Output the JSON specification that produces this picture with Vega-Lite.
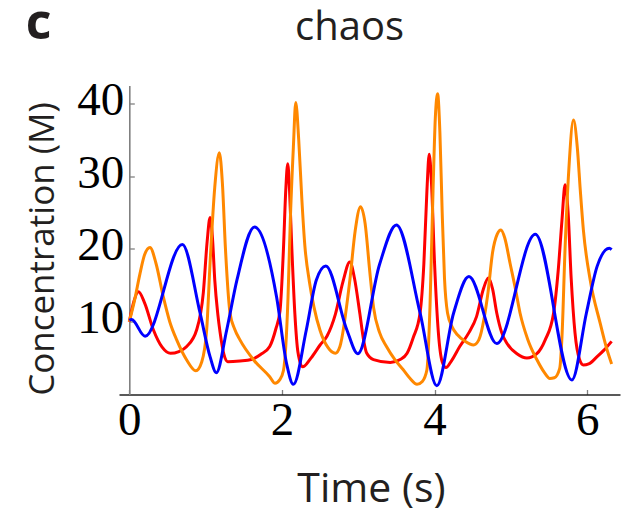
{
  "$schema": "https://vega.github.io/schema/vega-lite/v6.json",
  "autosize": {"type": "none"},
  "width": 501,
  "height": 309,
  "padding": {"left": 119, "top": 85.5, "right": 6, "bottom": 118.5},
  "background": "white",
  "title": {"text": "chaos", "font": "Open Sans", "fontSize": 40, "fontWeight": "normal", "color": "#231f20", "anchor": "middle", "dx": -20, "baseline": "alphabetic", "offset": -82},
  "datasets": {
    "red": [
      {"t": 0, "c": 10.0}, {"t": 0.06, "c": 12.8}, {"t": 0.12, "c": 14.1}, {"t": 0.2, "c": 12.6}, {"t": 0.315, "c": 8.9},
      {"t": 0.43, "c": 6.5}, {"t": 0.54, "c": 5.66}, {"t": 0.65, "c": 5.9}, {"t": 0.752, "c": 6.6}, {"t": 0.883, "c": 8.9},
      {"t": 0.97, "c": 14.0}, {"t": 1.02, "c": 21.0}, {"t": 1.058, "c": 24.3}, {"t": 1.09, "c": 21.5}, {"t": 1.12, "c": 15.7},
      {"t": 1.16, "c": 11.0}, {"t": 1.19, "c": 8.5}, {"t": 1.24, "c": 5.5}, {"t": 1.29, "c": 4.5}, {"t": 1.45, "c": 4.6},
      {"t": 1.6, "c": 4.8}, {"t": 1.72, "c": 5.5}, {"t": 1.84, "c": 6.6}, {"t": 1.92, "c": 9.0}, {"t": 1.975, "c": 11.5},
      {"t": 2.02, "c": 20.0}, {"t": 2.05, "c": 28.0}, {"t": 2.076, "c": 31.7}, {"t": 2.1, "c": 28.0}, {"t": 2.13, "c": 20.0},
      {"t": 2.17, "c": 11.0}, {"t": 2.21, "c": 5.8}, {"t": 2.27, "c": 3.8}, {"t": 2.38, "c": 5.0}, {"t": 2.5, "c": 6.8},
      {"t": 2.59, "c": 8.0}, {"t": 2.7, "c": 11.0}, {"t": 2.8, "c": 15.5}, {"t": 2.89, "c": 18.2}, {"t": 2.95, "c": 16.0},
      {"t": 3.02, "c": 11.2}, {"t": 3.07, "c": 7.5}, {"t": 3.11, "c": 5.7}, {"t": 3.2, "c": 4.8}, {"t": 3.42, "c": 4.4},
      {"t": 3.55, "c": 4.8}, {"t": 3.64, "c": 5.66}, {"t": 3.72, "c": 7.8}, {"t": 3.81, "c": 11.2}, {"t": 3.86, "c": 18.0},
      {"t": 3.9, "c": 28.0}, {"t": 3.93, "c": 33.0}, {"t": 3.96, "c": 29.0}, {"t": 4.0, "c": 18.0}, {"t": 4.05, "c": 8.5},
      {"t": 4.1, "c": 4.5}, {"t": 4.15, "c": 3.7}, {"t": 4.22, "c": 4.6}, {"t": 4.33, "c": 6.6}, {"t": 4.45, "c": 8.5},
      {"t": 4.55, "c": 10.7}, {"t": 4.64, "c": 14.5}, {"t": 4.705, "c": 16.0}, {"t": 4.76, "c": 14.5}, {"t": 4.815, "c": 11.2},
      {"t": 4.88, "c": 8.5}, {"t": 4.95, "c": 7.0}, {"t": 5.08, "c": 5.6}, {"t": 5.21, "c": 5.0}, {"t": 5.34, "c": 5.6},
      {"t": 5.45, "c": 7.5}, {"t": 5.56, "c": 11.2}, {"t": 5.62, "c": 17.0}, {"t": 5.67, "c": 24.0}, {"t": 5.71, "c": 28.8},
      {"t": 5.75, "c": 25.0}, {"t": 5.79, "c": 16.0}, {"t": 5.84, "c": 8.5}, {"t": 5.9, "c": 4.8}, {"t": 5.95, "c": 4.05},
      {"t": 6.02, "c": 4.2}, {"t": 6.13, "c": 5.2}, {"t": 6.22, "c": 6.1}, {"t": 6.32, "c": 7.3}
    ],
    "orange": [
      {"t": 0, "c": 10.0}, {"t": 0.07, "c": 13.0}, {"t": 0.14, "c": 16.6}, {"t": 0.2, "c": 19.2}, {"t": 0.271, "c": 20.2},
      {"t": 0.35, "c": 18.0}, {"t": 0.446, "c": 13.4}, {"t": 0.53, "c": 10.0}, {"t": 0.621, "c": 7.5}, {"t": 0.752, "c": 4.74},
      {"t": 0.872, "c": 3.25}, {"t": 0.95, "c": 4.5}, {"t": 1.014, "c": 8.9}, {"t": 1.058, "c": 18.0}, {"t": 1.12, "c": 28.5},
      {"t": 1.18, "c": 33.2}, {"t": 1.22, "c": 29.0}, {"t": 1.26, "c": 20.0}, {"t": 1.32, "c": 11.2}, {"t": 1.38, "c": 9.0},
      {"t": 1.45, "c": 7.5}, {"t": 1.63, "c": 4.74}, {"t": 1.84, "c": 2.45}, {"t": 1.91, "c": 1.54}, {"t": 1.97, "c": 2.0},
      {"t": 2.02, "c": 3.3}, {"t": 2.08, "c": 13.4}, {"t": 2.11, "c": 24.0}, {"t": 2.15, "c": 34.0}, {"t": 2.181, "c": 40.1},
      {"t": 2.22, "c": 35.0}, {"t": 2.26, "c": 27.0}, {"t": 2.3, "c": 20.5}, {"t": 2.36, "c": 15.5}, {"t": 2.42, "c": 12.0},
      {"t": 2.5, "c": 8.8}, {"t": 2.6, "c": 6.5}, {"t": 2.7, "c": 5.66}, {"t": 2.76, "c": 6.6}, {"t": 2.89, "c": 15.7},
      {"t": 2.96, "c": 22.5}, {"t": 3.03, "c": 25.8}, {"t": 3.09, "c": 23.5}, {"t": 3.15, "c": 17.0}, {"t": 3.2, "c": 12.0},
      {"t": 3.28, "c": 8.5}, {"t": 3.37, "c": 6.6}, {"t": 3.48, "c": 4.8}, {"t": 3.59, "c": 3.4}, {"t": 3.68, "c": 2.2},
      {"t": 3.77, "c": 1.4}, {"t": 3.84, "c": 1.8}, {"t": 3.9, "c": 3.4}, {"t": 3.94, "c": 12.0}, {"t": 3.98, "c": 28.0},
      {"t": 4.01, "c": 38.0}, {"t": 4.04, "c": 41.3}, {"t": 4.07, "c": 36.0}, {"t": 4.1, "c": 25.0}, {"t": 4.13, "c": 16.0},
      {"t": 4.17, "c": 11.2}, {"t": 4.23, "c": 9.3}, {"t": 4.3, "c": 8.2}, {"t": 4.4, "c": 7.3}, {"t": 4.51, "c": 6.8},
      {"t": 4.58, "c": 7.5}, {"t": 4.65, "c": 10.5}, {"t": 4.7, "c": 14.0}, {"t": 4.76, "c": 19.5}, {"t": 4.82, "c": 22.0},
      {"t": 4.87, "c": 22.6}, {"t": 4.92, "c": 21.5}, {"t": 4.99, "c": 18.0}, {"t": 5.06, "c": 14.5}, {"t": 5.12, "c": 11.2},
      {"t": 5.22, "c": 7.6}, {"t": 5.34, "c": 4.8}, {"t": 5.44, "c": 3.0}, {"t": 5.51, "c": 2.2}, {"t": 5.57, "c": 2.3},
      {"t": 5.64, "c": 3.6}, {"t": 5.67, "c": 8.0}, {"t": 5.71, "c": 20.0}, {"t": 5.76, "c": 31.0}, {"t": 5.82, "c": 37.7},
      {"t": 5.87, "c": 34.0}, {"t": 5.91, "c": 28.0}, {"t": 5.95, "c": 22.6}, {"t": 6.04, "c": 15.7}, {"t": 6.17, "c": 9.8},
      {"t": 6.25, "c": 6.5}, {"t": 6.32, "c": 4.2}
    ],
    "blue": [
      {"t": 0, "c": 10.2}, {"t": 0.03, "c": 10.3}, {"t": 0.206, "c": 8.0}, {"t": 0.695, "c": 20.6}, {"t": 0.927, "c": 11.2},
      {"t": 1.058, "c": 5.2}, {"t": 1.14, "c": 3.0}, {"t": 1.277, "c": 8.9}, {"t": 1.41, "c": 15.7}, {"t": 1.64, "c": 23.0},
      {"t": 1.93, "c": 13.4}, {"t": 2.06, "c": 4.3}, {"t": 2.15, "c": 1.4}, {"t": 2.32, "c": 8.9}, {"t": 2.45, "c": 15.7},
      {"t": 2.575, "c": 17.65}, {"t": 2.85, "c": 8.9}, {"t": 2.995, "c": 5.6}, {"t": 3.28, "c": 17.9}, {"t": 3.5, "c": 23.3},
      {"t": 3.81, "c": 11.2}, {"t": 4.03, "c": 1.2}, {"t": 4.25, "c": 11.2}, {"t": 4.45, "c": 16.2}, {"t": 4.815, "c": 7.0},
      {"t": 5.32, "c": 22.0}, {"t": 5.8, "c": 2.0}, {"t": 5.99, "c": 11.2}, {"t": 6.13, "c": 17.6}, {"t": 6.29, "c": 20.1},
      {"t": 6.32, "c": 19.9}
    ]
  },
  "encoding": {
    "x": {"field": "t", "type": "quantitative", "scale": {"domain": [-0.135, 6.43], "nice": false, "zero": false},
      "axis": {"title": "Time (s)", "values": [0, 2, 4, 6], "format": "d", "grid": false,
        "domainColor": "#222222", "domainWidth": 1.3, "tickColor": "#808080", "tickWidth": 1.3, "tickSize": -5,
        "labelFont": "Liberation Serif", "labelFontSize": 47, "labelColor": "#000000", "labelPadding": 7.5, "labelFlush": false, "labelOverlap": false, "labelBound": false,
        "titleFont": "Open Sans", "titleFontSize": 41, "titleFontWeight": "normal", "titleColor": "#231f20",
        "titleX": 252, "titleY": 107, "titleBaseline": "alphabetic", "titleAlign": "center", "titleAngle": 0}},
    "y": {"field": "c", "type": "quantitative", "scale": {"domain": [0, 42.45], "nice": false, "zero": false},
      "axis": {"title": "Concentration (M)", "values": [10, 20, 30, 40], "format": "d", "grid": false, "offset": -10.3,
        "domainColor": "#808080", "domainWidth": 1.6, "tickColor": "#808080", "tickWidth": 1.3, "tickSize": -5,
        "labelFont": "Liberation Serif", "labelFontSize": 47, "labelColor": "#000000", "labelPadding": 10.6, "labelOffset": -3, "labelFlush": false, "labelOverlap": false, "labelBound": false,
        "titleFont": "Open Sans", "titleFontSize": 35, "titleFontWeight": "normal", "titleColor": "#231f20",
        "titleX": -76, "titleY": 163, "titleBaseline": "alphabetic", "titleAlign": "center", "titleAngle": 270}}
  },
  "layer": [
    {"data": {"name": "red"}, "mark": {"type": "line", "color": "#ff0000", "strokeWidth": 3, "interpolate": "monotone"}},
    {"data": {"name": "orange"}, "mark": {"type": "line", "color": "#ff8800", "strokeWidth": 3, "interpolate": "monotone"},
      "encoding": {"x": {"field": "t", "type": "quantitative", "axis": null}}},
    {"data": {"name": "blue"}, "mark": {"type": "line", "color": "#0000ff", "strokeWidth": 3, "interpolate": "monotone"},
      "encoding": {"x": {"field": "t", "type": "quantitative",
        "axis": {"orient": "top", "title": "c", "domain": false, "ticks": false, "labels": false, "grid": false,
          "titleFont": "Open Sans", "titleFontSize": 50, "titleFontWeight": "bold", "titleColor": "#231f20",
          "titleX": -81, "titleY": -47.5, "titleBaseline": "alphabetic", "titleAlign": "center", "titleAngle": 0}}}}
  ],
  "resolve": {"axis": {"x": "independent"}},
  "config": {"view": {"stroke": null}}
}
